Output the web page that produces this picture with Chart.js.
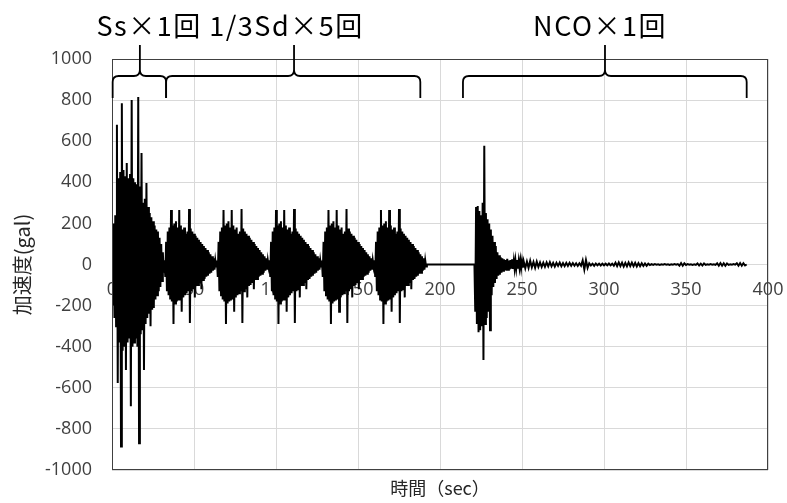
<!DOCTYPE html>
<html>
<head>
<meta charset="utf-8">
<script src="https://cdn.jsdelivr.net/npm/chart.js@4.4.0/dist/chart.umd.min.js"></script>
<style>
	html, body { margin: 0; padding: 0; background: #ffffff; }
</style>
</head>
<body>
<canvas id="myCanvas" width="787" height="503"></canvas>
<script>

// Acceleration record (gal).
// Main records are sampled every 0.5 sec, the NCO coda every 1 sec.
var dt = 0.5;
var tailDt = 1;

// Ss x1 : 0 - 32 sec
var ssAcc = [
	150, -200, 200, -260, 240, -300, 680, -577, 420, -380,
	450, -886, 785, -420, 460, -400, 430, -513, 494, -380,
	420, -360, 440, -690, 800, -400, 420, -380, 400, -360,
	390, -400, 815, -870, 380, -340, 542, -320, 300, -513,
	320, -290, 396, -260, 280, -240, 250, -300, 230, -220,
	210, -212, 190, -170, 170, -150, 160, -130, 130, -110,
	100, -80, 60, -40
];

// 1/3Sd : one 32 sec burst, the same record is played 5 times
var sdAcc = [
	20, -60, 110, -130, 160, -150, 180, -170, 265, -180,
	190, -290, 200, -190, 210, -180, 180, -175, 265, -170,
	190, -230, 170, -160, 180, -150, 150, -140, 160, -130,
	270, -285, 175, -130, 160, -120, 150, -160, 140, -105,
	130, -100, 120, -90, 110, -120, 100, -75, 90, -70,
	80, -60, 70, -55, 60, -45, 50, -40, 40, -30,
	30, -25, 20, -10
];
var sdStart = 32;
var sdPeriod = 32;
var sdCount = 5;
var sdEnd = 192;

// NCO x1 : main part 221 - 251 sec
var ncoStart = 221;
var ncoAcc = [
	0, -230, 280, -290, 285, -330, 260, -320, 240, -300,
	300, -465, 578, -290, 250, -260, 220, -230, 200, -320,
	170, -150, 140, -110, 110, -90, 90, -70, 60, -55,
	45, -50, 35, -40, 30, -30, 25, -28, 22, -30,
	28, -25, 20, -24, 22, -20, 25, -22, 18, -20,
	20, -18, 22, -20, 18, -16, 20, -18, 16, -15
];

// NCO coda : 251 - 387 sec
var tailStart = 251;
var ncoTailAcc = [
	16, -18, 14, -16, 18, -14, 12, -16, 14, -12,
	10, -12, 9, -11, 10, -9, 11, -9, 8, -10,
	8, -7, 9, -8, 7, -8, 8, -7, 8, -6,
	7, -6, 6, -7, 6, -6, 20, -24, 22, -16,
	6, -5, 4, -6, 5, -4, 4, -5, 4, -4,
	4, -4, 5, -4, 4, -6, 9, -8, 10, -8,
	9, -10, 8, -9, 10, -8, 9, -8, 8, -9,
	7, -8, 6, -7, 5, -6, 4, -3, 2, -2,
	2, -1, 1, -2, 1, -1, 2, -1, 1, -2,
	1, -1, 2, -1, 2, -6, 7, -6, 6, -2,
	2, -1, 1, -2, 1, -2, 5, -5, 4, -5,
	5, -2, 1, -1, 2, -1, 1, -2, 6, -6,
	7, -6, 6, -6, 5, -2, 1, -1, 2, -1,
	6, -6, 7, -6, 6, -5, 0
];

// braces over the record (sec) and their captions
var braceFrom = [0.4, 33, 214];
var braceMid = [17, 111, 300.6];
var braceTo = [33, 188, 387];
var captions = ['Ss\u00d71\u56de 1/3Sd\u00d75\u56de', 'NCO\u00d71\u56de'];
var captionAt = [72, 297.6];

var xTicks = [0, 50, 100, 150, 200, 250, 300, 350, 400];
var yTicks = [-1000, -800, -600, -400, -200, 0, 200, 400, 600, 800, 1000];


// build the x/y series
var points = [];
function addRecord(start, step, values){
	for (var i = 0; i < values.length; i++){
		points.push({x: start + i * step, y: values[i]});
	}
}
addRecord(0, dt, ssAcc);
for (var k = 0; k < sdCount; k++){
	addRecord(sdStart + k * sdPeriod, dt, sdAcc);
}
points.push({x: sdEnd, y: 0});
addRecord(ncoStart, dt, ncoAcc);
addRecord(tailStart, tailDt, ncoTailAcc);


var numFont = '"Open Sans", "Noto Sans CJK JP", sans-serif';
var jpFont = '"Noto Sans CJK JP", sans-serif';

// frame, braces and captions
var annotate = {
	id: 'annotate',
	afterDraw: function(chart){
		var ctx = chart.ctx;
		var a = chart.chartArea;
		var xs = chart.scales.x;

		ctx.save();
		ctx.strokeStyle = '#404040';
		ctx.lineWidth = 1;
		ctx.strokeRect(a.left + 0.5, a.top + 0.5, a.right - a.left - 1, a.bottom - a.top - 1);

		ctx.strokeStyle = '#000000';
		ctx.lineWidth = 1.8;
		var yTop = a.top - 14, yLine = a.top + 17, yEnd = a.top + 39, r = 6;
		for (var i = 0; i < braceFrom.length; i++){
			var x0 = xs.getPixelForValue(braceFrom[i]);
			var xm = xs.getPixelForValue(braceMid[i]);
			var x1 = xs.getPixelForValue(braceTo[i]);
			ctx.beginPath();
			ctx.moveTo(x0, yEnd);
			ctx.lineTo(x0, yLine + r);
			ctx.quadraticCurveTo(x0, yLine, x0 + r, yLine);
			ctx.lineTo(xm - r, yLine);
			ctx.quadraticCurveTo(xm, yLine, xm, yLine - r);
			ctx.lineTo(xm, yTop);
			ctx.moveTo(x1, yEnd);
			ctx.lineTo(x1, yLine + r);
			ctx.quadraticCurveTo(x1, yLine, x1 - r, yLine);
			ctx.lineTo(xm + r, yLine);
			ctx.quadraticCurveTo(xm, yLine, xm, yLine - r);
			ctx.stroke();
		}

		ctx.fillStyle = '#000000';
		ctx.font = '27px ' + jpFont;
		ctx.letterSpacing = '1.5px';
		ctx.textAlign = 'center';
		ctx.textBaseline = 'alphabetic';
		for (var j = 0; j < captions.length; j++){
			ctx.fillText(captions[j], xs.getPixelForValue(captionAt[j]), a.top - 23);
		}
		ctx.restore();
	}
};

function plainLabel(v){
	return String(v);
}

var ctx = document.getElementById('myCanvas').getContext('2d');
var myChart = new Chart(ctx, {
	type: 'line',
	data: {
		datasets: [{
			label: '加速度',
			data: points,
			xAxisID: 'x',
			yAxisID: 'y',
			borderColor: '#000000',
			borderWidth: 2,
			pointRadius: 0,
			tension: 0,
			fill: false
		}]
	},
	options: {
		responsive: false,
		animation: false,
		layout: { padding: { top: 59, right: 19, bottom: 0, left: 0 } },
		plugins: {
			legend: { display: false },
			tooltip: { enabled: false }
		},
		scales: {
			x: {
				type: 'linear',
				position: { y: 0 },
				min: 0,
				max: 400,
				afterBuildTicks: function(s){ s.ticks = xTicks.map(function(v){ return {value: v}; }); },
				afterFit: function(s){ s.height = 0; s.paddingLeft = 0; s.paddingRight = 0; },
				ticks: { color: '#404040', font: { family: numFont, size: 18 }, padding: 15, maxRotation: 0, autoSkip: false, callback: plainLabel },
				grid: { color: '#d9d9d9', drawTicks: false },
				border: { display: false }
			},
			x2: {
				type: 'linear',
				position: 'bottom',
				min: 0,
				max: 400,
				afterFit: function(s){ s.height = 33; s.paddingLeft = 0; s.paddingRight = 0; },
				ticks: { display: false },
				grid: { display: false, drawTicks: false },
				border: { display: false },
				title: { display: true, text: '時間（sec）', color: '#262626', font: { family: jpFont, size: 18 }, padding: { top: 0, bottom: 4 } }
			},
			y: {
				min: -1000,
				max: 1000,
				afterBuildTicks: function(s){ s.ticks = yTicks.map(function(v){ return {value: v}; }); },
				afterFit: function(s){ s.width = 112; },
				ticks: { color: '#404040', font: { family: numFont, size: 18 }, padding: 20, callback: plainLabel },
				grid: { color: '#d9d9d9', drawTicks: false },
				border: { display: false },
				title: { display: true, text: '加速度(gal)', color: '#262626', font: { family: jpFont, size: 20 }, padding: { top: 10, bottom: 0 } }
			}
		}
	},
	plugins: [annotate]
});

</script>
</body>
</html>
